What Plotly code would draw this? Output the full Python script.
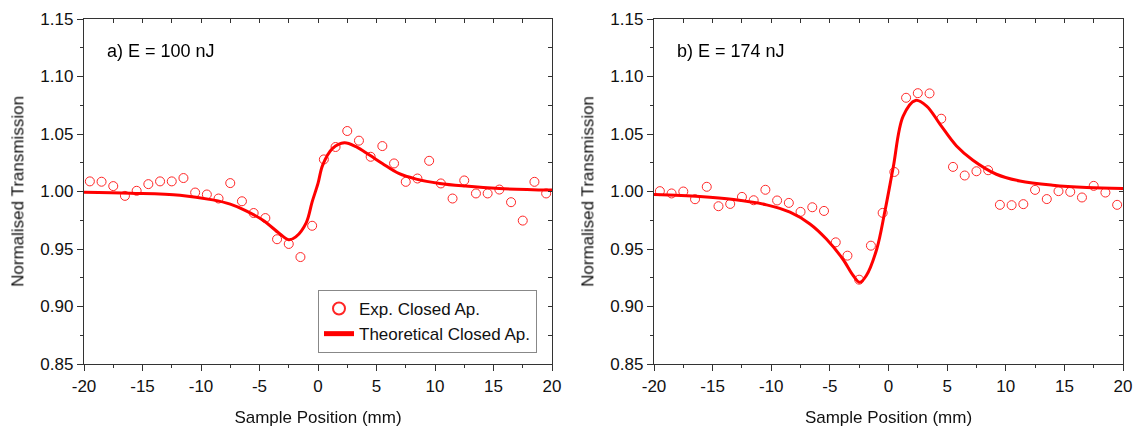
import plotly.graph_objects as go

# ---------------- data ----------------
x_exp = [-19.5, -18.5, -17.5, -16.5, -15.5, -14.5, -13.5, -12.5, -11.5, -10.5,
         -9.5, -8.5, -7.5, -6.5, -5.5, -4.5, -3.5, -2.5, -1.5, -0.5,
         0.5, 1.5, 2.5, 3.5, 4.5, 5.5, 6.5, 7.5, 8.5, 9.5,
         10.5, 11.5, 12.5, 13.5, 14.5, 15.5, 16.5, 17.5, 18.5, 19.5]

a_exp = [1.0088, 1.0085, 1.0047, 0.9962, 1.0006, 1.0064, 1.0088, 1.0088, 1.0117, 0.9991,
         0.9974, 0.9939, 1.0073, 0.9915, 0.9813, 0.9769, 0.9585, 0.9544, 0.9430, 0.9702,
         1.0279, 1.0387, 1.0526, 1.0442, 1.0302, 1.0395, 1.0244, 1.0084, 1.0113, 1.0267,
         1.0070, 0.9939, 1.0096, 0.9983, 0.9983, 1.0017, 0.9907, 0.9747, 1.0084, 0.9983]

b_exp = [1.0003, 0.9983, 1.0000, 0.9933, 1.0041, 0.9872, 0.9892, 0.9953, 0.9924, 1.0015,
         0.9922, 0.9901, 0.9823, 0.9863, 0.9831, 0.9558, 0.9442, 0.9233, 0.9529, 0.9814,
         1.0170, 1.0815, 1.0855, 1.0853, 1.0633, 1.0214, 1.0139, 1.0176, 1.0185, 0.9884,
         0.9881, 0.9890, 1.0014, 0.9934, 1.0003, 0.9997, 0.9948, 1.0049, 0.9991, 0.9884]

a_fit_x = [-20, -16, -11.8, -9, -7.5, -6.1, -4.7, -3.3, -2.5, -1.9, -1.0, -0.5, 0.0,
           0.4, 1.25, 2.25, 3.25, 4.4, 5.5, 6.9, 8.4, 10.4, 12.6, 15.5, 20]
a_fit_y = [0.9993, 0.9985, 0.9968, 0.9927, 0.989, 0.983, 0.975, 0.9635, 0.958, 0.9605,
           0.973, 0.991, 1.007, 1.023, 1.0375, 1.0424, 1.039, 1.0317, 1.0244, 1.0157,
           1.0108, 1.007, 1.0047, 1.0026, 1.0012]

b_fit_x = [-20, -16.1, -13.2, -10.4, -8.4, -6.7, -5.3, -3.9, -3.0, -2.45, -1.9, -1.0,
           -0.3, 0.4, 1.25, 2.3, 3.25, 4.4, 5.8, 7.2, 9.2, 11.2, 14.0, 16.9, 20]
b_fit_y = [0.9974, 0.9956, 0.993, 0.9884, 0.982, 0.9718, 0.9587, 0.9413, 0.9267, 0.921,
           0.9267, 0.950, 0.9832, 1.0208, 1.0656, 1.0792, 1.0743, 1.0584, 1.0396, 1.0272,
           1.015, 1.0092, 1.0055, 1.0035, 1.0026]

panel_labels = ["a) E = 100 nJ", "b) E = 174 nJ"]
x_ticks = [-20, -15, -10, -5, 0, 5, 10, 15, 20]
x_ticktext = ["-20", "-15", "-10", "-5", "0", "5", "10", "15", "20"]
y_ticks = [0.85, 0.90, 0.95, 1.00, 1.05, 1.10, 1.15]
y_ticktext = ["0.85", "0.90", "0.95", "1.00", "1.05", "1.10", "1.15"]

# ---------------- figure ----------------
RED = "#FF0000"
FONT = "Arial, Liberation Sans, sans-serif"

fig = go.Figure()

for i, (yexp, fx, fy) in enumerate([(a_exp, a_fit_x, a_fit_y), (b_exp, b_fit_x, b_fit_y)]):
    xa = "x" if i == 0 else "x2"
    ya = "y" if i == 0 else "y2"
    fig.add_trace(go.Scatter(
        x=x_exp, y=yexp, mode="markers", xaxis=xa, yaxis=ya,
        name="Exp. Closed Ap.", showlegend=(i == 0),
        marker=dict(symbol="circle-open", size=9, color=RED,
                    line=dict(color=RED, width=1)),
        opacity=0.85,
    ))
    fig.add_trace(go.Scatter(
        x=fx, y=fy, mode="lines", xaxis=xa, yaxis=ya,
        name="Theoretical Closed Ap.", showlegend=(i == 0),
        line=dict(color=RED, width=3, shape="spline", smoothing=1.0),
    ))

# dummy traces so that the mirrored (inside-tick) axes are drawn
for xa, ya in [("x3", "y3"), ("x4", "y4")]:
    fig.add_trace(go.Scatter(x=[None], y=[None], xaxis=xa, yaxis=ya,
                             showlegend=False, hoverinfo="skip"))

tickfont = dict(family=FONT, size=17, color="#111")
titlefont = dict(family=FONT, size=17, color="#111")

def main_x(domain, anchor):
    return dict(domain=domain, anchor=anchor, range=[-20, 20], automargin=False,
                tickmode="array", tickvals=x_ticks, ticktext=x_ticktext,
                ticks="outside", ticklen=6, tickwidth=1, tickcolor="#333",
                minor=dict(dtick=2.5, tick0=0, ticks="outside", ticklen=3,
                           tickcolor="#333", tickwidth=1),
                showline=True, linecolor="#333", linewidth=1.3,
                showgrid=False, zeroline=False, tickfont=tickfont,
                title=dict(text="Sample Position (mm)", font=titlefont, standoff=16))

def main_y(anchor):
    return dict(domain=[0, 1], anchor=anchor, range=[0.85, 1.15], automargin=False,
                tickmode="array", tickvals=y_ticks, ticktext=y_ticktext,
                ticks="outside", ticklen=6, tickwidth=1, tickcolor="#333",
                minor=dict(dtick=0.025, tick0=0.85, ticks="outside", ticklen=3,
                           tickcolor="#333", tickwidth=1),
                showline=True, linecolor="#333", linewidth=1.3,
                showgrid=False, zeroline=False, tickfont=tickfont,
                title=dict(text="Normalised Transmission", font=titlefont, standoff=12))

def top_x(over, anchor):
    return dict(overlaying=over, anchor=anchor, side="top", range=[-20, 20],
                automargin=False,
                dtick=2.5, tick0=0, ticks="inside", ticklen=4, tickwidth=1,
                tickcolor="#333", showticklabels=False, showline=True,
                linecolor="#333", linewidth=1.3, showgrid=False, zeroline=False)

def right_y(over, anchor):
    return dict(overlaying=over, anchor=anchor, side="right", range=[0.85, 1.15],
                automargin=False,
                dtick=0.025, tick0=0.85, ticks="inside", ticklen=4, tickwidth=1,
                tickcolor="#333", showticklabels=False, showline=True,
                linecolor="#333", linewidth=1.3, showgrid=False, zeroline=False)

L, R, T, B = 84, 21, 19, 63
W, H = 1144, 427
pw = W - L - R
ph = H - T - B
d1 = [0, 468 / pw]
d2 = [(654 - L) / pw, 1.0]

fig.update_layout(
    width=W, height=H,
    margin=dict(l=L, r=R, t=T, b=B, autoexpand=False),
    paper_bgcolor="white", plot_bgcolor="white",
    font=dict(family=FONT, color="black"),
    xaxis=main_x(d1, "y"),
    yaxis=main_y("x"),
    xaxis2=main_x(d2, "y2"),
    yaxis2=main_y("x2"),
    xaxis3=top_x("x", "y"),
    yaxis3=right_y("y", "x"),
    xaxis4=top_x("x2", "y2"),
    yaxis4=right_y("y2", "x2"),
    showlegend=True,
    legend=dict(x=(537 - L) / pw, y=(H - B - 353) / ph,
                xanchor="right", yanchor="bottom",
                bordercolor="#888", borderwidth=1, bgcolor="white",
                font=dict(family=FONT, size=17, color="#111"),
                itemsizing="constant", tracegroupgap=0),
)

for i, lab in enumerate(panel_labels):
    fig.add_annotation(text=lab, xref=("x domain" if i == 0 else "x2 domain"),
                       yref="paper", x=0.045, y=(H - B - 51) / ph,
                       xanchor="left", yanchor="middle", showarrow=False,
                       font=dict(family=FONT, size=18, color="black"))

fig.write_html("out.html")
